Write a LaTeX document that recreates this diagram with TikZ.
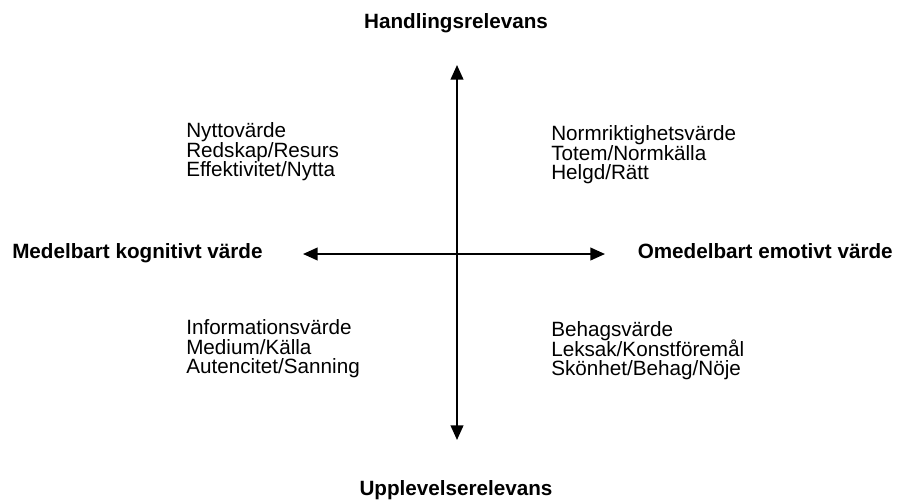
\documentclass[tikz,border=0pt]{standalone}
\usepackage{fontspec}
\setmainfont{Liberation Sans}
\usetikzlibrary{arrows.meta}
\newcommand\quadfont{\fontsize{15.5}{14.7}\selectfont\lineskiplimit=-20pt\relax\lineskip=0pt\relax}
\begin{document}
\begin{tikzpicture}[x=0.75pt,y=-0.75pt,
  axis/.style={line width=1.5pt,{Triangle[length=11pt,width=9.5pt]}-{Triangle[length=11pt,width=9.5pt]}},
  quad/.style={align=left,anchor=west,inner sep=0pt,font=\quadfont},
  pole/.style={inner sep=0pt,anchor=base,font=\fontsize{15.5}{17}\selectfont\bfseries}]
\useasboundingbox (0,0) rectangle (902,500);
\fill[white] (0,0) rectangle (902,500);
\coordinate (top) at (457,65);
\coordinate (bot) at (457,440);
\coordinate (lft) at (303,254);
\coordinate (rgt) at (605,254);
\draw[axis] (bot) -- (top);
\draw[axis] (lft) -- (rgt);
\node[pole] (hr) at (456,28) {Handlingsrelevans};
\node[pole] (ur) at (456,495) {Upplevelserelevans};
\node[pole,anchor=base west] (mk) at (12,258) {Medelbart kognitivt värde};
\node[pole,anchor=base east] (oe) at (893,258) {Omedelbart emotivt värde};
\node[quad] (tl) at (186,152) {Nyttovärde\\Redskap/Resurs\\Effektivitet/Nytta};
\node[quad] (tr) at (551,155) {Normriktighetsvärde\\Totem/Normkälla\\Helgd/Rätt};
\node[quad] (bl) at (186,349) {Informationsvärde\\Medium/Källa\\Autencitet/Sanning};
\node[quad] (br) at (551,351) {Behagsvärde\\Leksak/Konstföremål\\Skönhet/Behag/Nöje};
\end{tikzpicture}
\end{document}
